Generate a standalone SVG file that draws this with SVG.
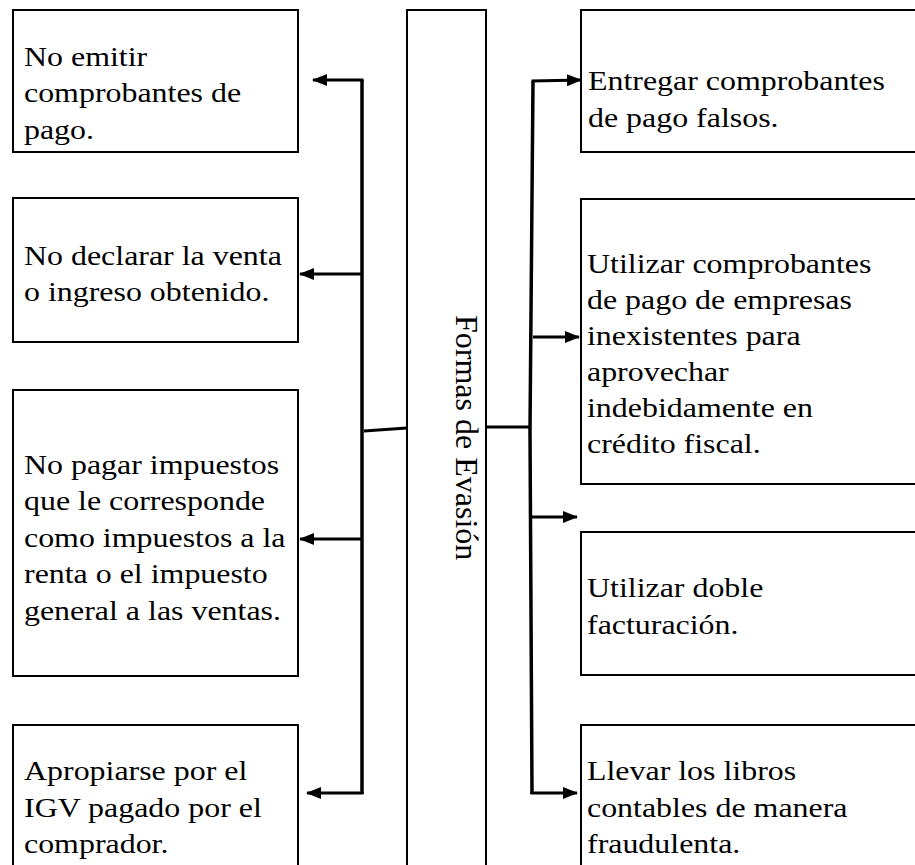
<svg xmlns="http://www.w3.org/2000/svg" width="915" height="865" viewBox="0 0 915 865">
<defs>
<style>
.box{fill:#fff;stroke:#000;stroke-width:2}
.t{font-family:"Liberation Serif","Times New Roman",serif;font-size:28px;fill:#000}
.v{font-family:"Liberation Serif","Times New Roman",serif;font-size:32px;fill:#000}
.spine{fill:none;stroke:#000;stroke-width:3.5}
.br{fill:none;stroke:#000;stroke-width:3}
.ar{fill:none;stroke:#000;stroke-width:3;marker-end:url(#ah)}
</style>
<marker id="ah" markerUnits="userSpaceOnUse" viewBox="0 0 15 12" refX="14" refY="6" markerWidth="15" markerHeight="12" orient="auto">
<path d="M0,0 L15,6 L0,12 z" fill="#000"/>
</marker>
</defs>
<rect width="915" height="865" fill="#fff"/>

<g id="center">
<rect class="box" x="407" y="10" width="79" height="880"/>
<text class="v" transform="translate(456,315) rotate(90)">Formas de Evasión</text>
</g>

<g id="left1">
<rect class="box" x="13" y="10" width="285" height="142"/>
<text class="t" transform="translate(24,65.5) scale(1.14,1)"><tspan x="0" y="0">No emitir</tspan><tspan x="0" y="36.6">comprobantes de</tspan><tspan x="0" y="73.2">pago.</tspan></text>
</g>
<g id="left2">
<rect class="box" x="13" y="198" width="285" height="144"/>
<text class="t" transform="translate(24,264.5) scale(1.14,1)"><tspan x="0" y="0">No declarar la venta</tspan><tspan x="0" y="36.6">o ingreso obtenido.</tspan></text>
</g>
<g id="left3">
<rect class="box" x="13" y="390" width="285" height="286"/>
<text class="t" transform="translate(24,473.5) scale(1.14,1)"><tspan x="0" y="0">No pagar impuestos</tspan><tspan x="0" y="36.6">que le corresponde</tspan><tspan x="0" y="73.2">como impuestos a la</tspan><tspan x="0" y="109.8">renta o el impuesto</tspan><tspan x="0" y="146.4">general a las ventas.</tspan></text>
</g>
<g id="left4">
<rect class="box" x="13" y="725" width="285" height="165"/>
<text class="t" transform="translate(24,780) scale(1.14,1)"><tspan x="0" y="0">Apropiarse por el</tspan><tspan x="0" y="36.6">IGV pagado por el</tspan><tspan x="0" y="73.2">comprador.</tspan></text>
</g>

<g id="right1">
<rect class="box" x="581" y="10" width="350" height="142"/>
<text class="t" transform="translate(588,90) scale(1.14,1)"><tspan x="0" y="0">Entregar comprobantes</tspan><tspan x="0" y="36.6">de pago falsos.</tspan></text>
</g>
<g id="right2">
<rect class="box" x="581" y="199" width="350" height="285"/>
<text class="t" transform="translate(587,272.5) scale(1.14,1)"><tspan x="0" y="0">Utilizar comprobantes</tspan><tspan x="0" y="36.2">de pago de empresas</tspan><tspan x="0" y="72.4">inexistentes para</tspan><tspan x="0" y="108.6">aprovechar</tspan><tspan x="0" y="144.8">indebidamente en</tspan><tspan x="0" y="181">crédito fiscal.</tspan></text>
</g>
<g id="right3">
<rect class="box" x="581" y="532" width="350" height="143"/>
<text class="t" transform="translate(587,597) scale(1.14,1)"><tspan x="0" y="0">Utilizar doble</tspan><tspan x="0" y="36.6">facturación.</tspan></text>
</g>
<g id="right4">
<rect class="box" x="581" y="725" width="350" height="165"/>
<text class="t" transform="translate(587,780) scale(1.14,1)"><tspan x="0" y="0">Llevar los libros</tspan><tspan x="0" y="36.6">contables de manera</tspan><tspan x="0" y="73.2">fraudulenta.</tspan></text>
</g>

<g id="connectors">
<line class="spine" x1="362" y1="80" x2="362" y2="794"/>
<line class="br" x1="364" y1="431" x2="407" y2="428"/>
<path class="ar" d="M363.5,80 L313,80"/>
<path class="ar" d="M362,274 L300,274"/>
<path class="ar" d="M362,539 L300,539"/>
<path class="ar" d="M363.5,793 L307,793"/>
<polyline class="spine" points="533,81 530,430 532,794"/>
<line class="br" x1="486" y1="427" x2="531" y2="427"/>
<path class="ar" d="M531.5,81 L581,80"/>
<path class="ar" d="M533,337 L579,337"/>
<path class="ar" d="M531,517 L577,517"/>
<path class="ar" d="M530.5,793 L577,793"/>
</g>
</svg>
